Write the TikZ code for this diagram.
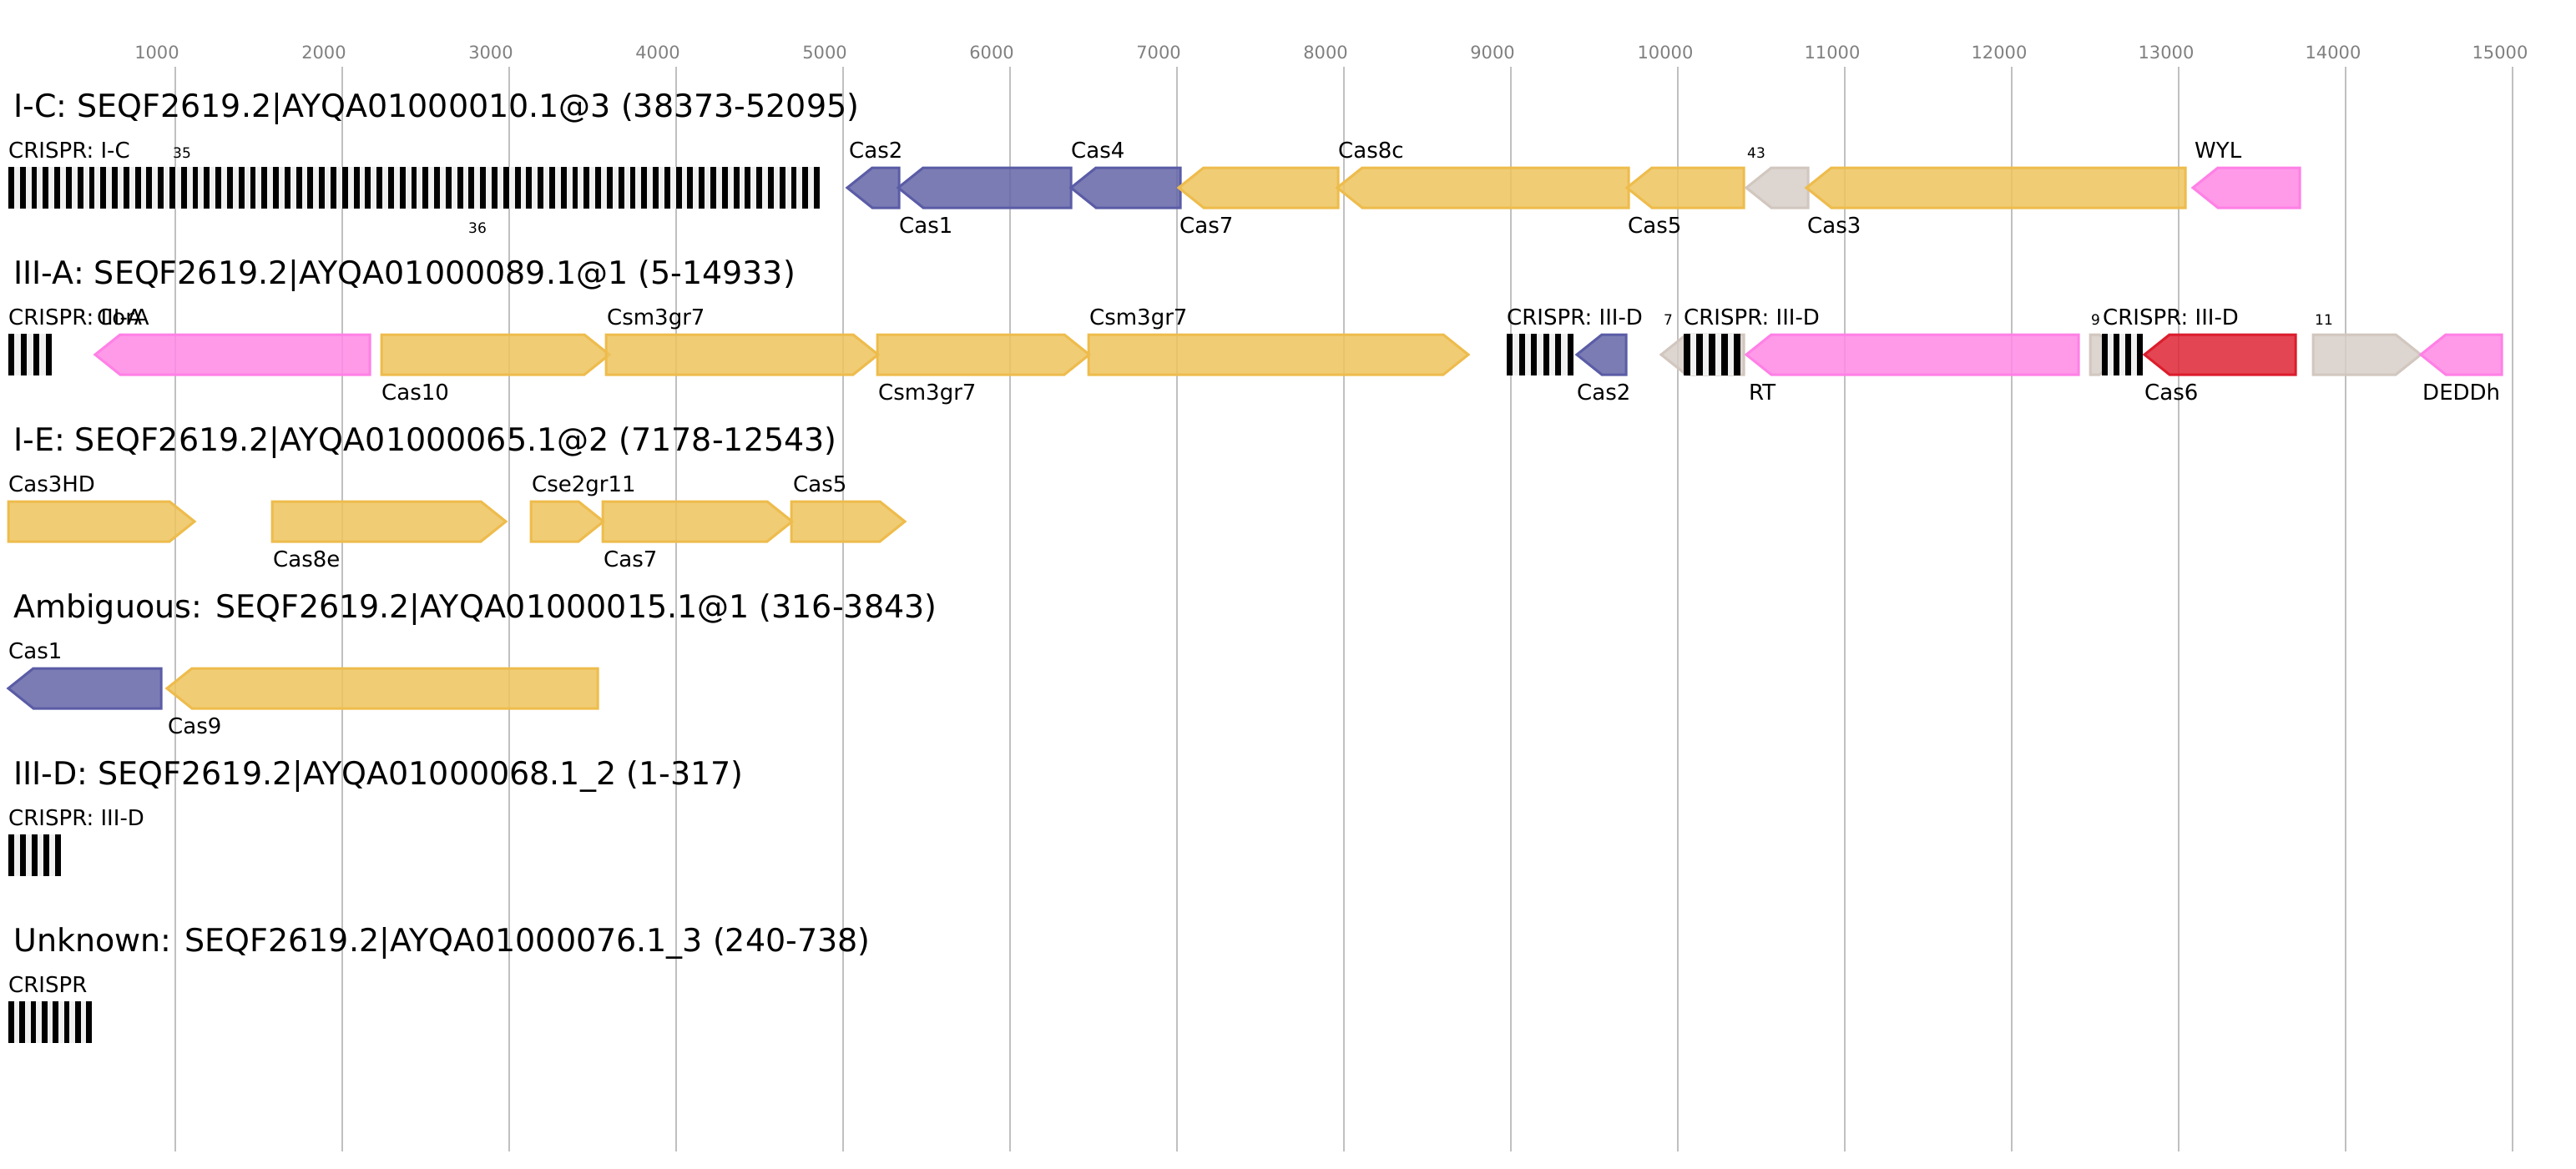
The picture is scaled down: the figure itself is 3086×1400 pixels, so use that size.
\documentclass[tikz,border=0pt]{standalone}
\usepackage{fontspec}
\setmainfont{DejaVu Sans}
\definecolor{blueF}{RGB}{100,102,168}
\definecolor{blueD}{RGB}{90,92,166}
\definecolor{yelF}{RGB}{238,196,94}
\definecolor{yelD}{RGB}{238,188,76}
\definecolor{pinkF}{RGB}{255,137,230}
\definecolor{pinkD}{RGB}{255,128,230}
\definecolor{greyF}{RGB}{214,206,200}
\definecolor{greyD}{RGB}{210,199,191}
\definecolor{redF}{RGB}{223,37,54}
\definecolor{redD}{RGB}{220,29,44}
\definecolor{gridc}{RGB}{192,192,192}
\definecolor{tickc}{RGB}{128,128,128}
\definecolor{spacerc}{RGB}{240,240,240}
\tikzset{
  genebase/.style={line width=3pt, line join=miter, fill opacity=0.85},
  bluegene/.style={genebase, fill=blueF, draw=blueD},
  yelgene/.style={genebase, fill=yelF, draw=yelD},
  pinkgene/.style={genebase, fill=pinkF, draw=pinkD},
  greygene/.style={genebase, fill=greyF, draw=greyD},
  redgene/.style={genebase, fill=redF, draw=redD},
  gridline/.style={draw=gridc, line width=2pt},
  ticklabel/.style={text=tickc, font=\fontsize{21}{25}\selectfont, inner sep=0pt, anchor=base},
  title/.style={font=\fontsize{38}{44}\selectfont, inner sep=0pt, anchor=base west},
  lab/.style={font=\fontsize{26}{30}\selectfont, inner sep=0pt, anchor=base west},
  numlab/.style={font=\fontsize{17}{20}\selectfont, inner sep=0pt, anchor=base west}
}
\newcommand\geneL[4]{\draw[#1] (#2,#4) -- (#2+30,#4-24) -- (#3,#4-24) -- (#3,#4+24) -- (#2+30,#4+24) -- cycle;}
\newcommand\geneR[4]{\draw[#1] (#2,#4-24) -- (#3-30,#4-24) -- (#3,#4) -- (#3-30,#4+24) -- (#2,#4+24) -- cycle;}
\newcommand\crisprarr[4]{%
  \fill[spacerc] (#1,#4-25) rectangle (#2,#4+25);
  \pgfmathsetmacro\bw{(#2-#1)/(2*#3-1)}%
  \foreach \i in {1,...,#3} {\fill[black] ({#1+2*(\i-1)*\bw},#4-25) rectangle ++(\bw,50);}%
}
\begin{document}
\begin{tikzpicture}[x=1pt,y=-1pt]
\useasboundingbox (0,0) rectangle (3086,1400);
\fill[white] (0,0) rectangle (3086,1400);
% grid
\foreach \k in {1,...,15} {\draw[gridline] ({10+200*\k},80) -- ({10+200*\k},1380);}
\foreach \k in {1,...,9} {\node[ticklabel] (t\k) at ({10+200*\k-22},70) {\k000};}
\foreach \k in {10,...,15} {\node[ticklabel] (t\k) at ({10+200*\k-15},70) {\k000};}

% ---------- Row 1: I-C ----------
\node[title] (title1) at (16,140) {I-C: SEQF2619.2|AYQA01000010.1@3 (38373-52095)};
\crisprarr{10}{982}{71}{225}
\geneL{bluegene}{1015}{1077}{225}
\geneL{bluegene}{1076}{1283}{225}
\geneL{bluegene}{1283}{1414}{225}
\geneL{yelgene}{1412}{1603}{225}
\geneL{yelgene}{1602}{1951}{225}
\geneL{yelgene}{1949}{2089}{225}
\geneL{greygene}{2092}{2166}{225}
\geneL{yelgene}{2164}{2618}{225}
\geneL{pinkgene}{2627}{2755}{225}
\node[lab] (r1a) at (10,189) {CRISPR: I-C};
\node[numlab] (r1b) at (207,189) {35};
\node[numlab] (r1c) at (561,279) {36};
\node[lab] (r1d) at (1017,189) {Cas2};
\node[lab] (r1e) at (1077,279) {Cas1};
\node[lab] (r1f) at (1283,189) {Cas4};
\node[lab] (r1g) at (1413,279) {Cas7};
\node[lab] (r1h) at (1603,189) {Cas8c};
\node[lab] (r1i) at (1950,279) {Cas5};
\node[numlab] (r1j) at (2093,189) {43};
\node[lab] (r1k) at (2165,279) {Cas3};
\node[lab] (r1l) at (2629,189) {WYL};

% ---------- Row 2: III-A ----------
\node[title] (title2) at (16,340) {III-A: SEQF2619.2|AYQA01000089.1@1 (5-14933)};
\crisprarr{10}{62}{4}{425}
\geneL{pinkgene}{114}{443}{425}
\geneR{yelgene}{457}{730}{425}
\geneR{yelgene}{726}{1052}{425}
\geneR{yelgene}{1051}{1305}{425}
\geneR{yelgene}{1304}{1759}{425}
\crisprarr{1805}{1885}{6}{425}
\geneL{bluegene}{1889}{1948}{425}
\geneL{greygene}{1990}{2089}{425}
\crisprarr{2017}{2085}{5}{425}
\geneL{pinkgene}{2092}{2490}{425}
\geneR{greygene}{2504}{2545}{425}
\crisprarr{2518}{2567}{4}{425}
\geneL{redgene}{2569}{2750}{425}
\geneR{greygene}{2771}{2900}{425}
\geneL{pinkgene}{2900}{2997}{425}
\node[lab] (r2a) at (10,389) {CRISPR: III-A};
\node[lab] (r2b) at (116,389) {CorA};
\node[lab] (r2c) at (457,479) {Cas10};
\node[lab] (r2d) at (727,389) {Csm3gr7};
\node[lab] (r2e) at (1052,479) {Csm3gr7};
\node[lab] (r2f) at (1305,389) {Csm3gr7};
\node[lab] (r2g) at (1805,389) {CRISPR: III-D};
\node[lab] (r2h) at (1889,479) {Cas2};
\node[numlab] (r2i) at (1993,389) {7};
\node[lab] (r2j) at (2017,389) {CRISPR: III-D};
\node[lab] (r2k) at (2095,479) {RT};
\node[numlab] (r2l) at (2505,389) {9};
\node[lab] (r2m) at (2519,389) {CRISPR: III-D};
\node[lab] (r2n) at (2569,479) {Cas6};
\node[numlab] (r2o) at (2773,389) {11};
\node[lab] (r2p) at (2902,479) {DEDDh};

% ---------- Row 3: I-E ----------
\node[title] (title3) at (16,540) {I-E: SEQF2619.2|AYQA01000065.1@2 (7178-12543)};
\geneR{yelgene}{10}{233}{625}
\geneR{yelgene}{326}{606}{625}
\geneR{yelgene}{636}{723}{625}
\geneR{yelgene}{722}{949}{625}
\geneR{yelgene}{948}{1084}{625}
\node[lab] (r3a) at (10,589) {Cas3HD};
\node[lab] (r3b) at (327,679) {Cas8e};
\node[lab] (r3c) at (637,589) {Cse2gr11};
\node[lab] (r3d) at (723,679) {Cas7};
\node[lab] (r3e) at (950,589) {Cas5};

% ---------- Row 4: Ambiguous ----------
\node[title] (title4) at (16,740) {Ambiguous: SEQF2619.2|AYQA01000015.1@1 (316-3843)};
\geneL{bluegene}{10}{193}{825}
\geneL{yelgene}{200}{716}{825}
\node[lab] (r4a) at (10,789) {Cas1};
\node[lab] (r4b) at (201,879) {Cas9};

% ---------- Row 5: III-D ----------
\node[title] (title5) at (16,940) {III-D: SEQF2619.2|AYQA01000068.1\_2 (1-317)};
\crisprarr{10}{73}{5}{1025}
\node[lab] (r5a) at (10,989) {CRISPR: III-D};

% ---------- Row 6: Unknown ----------
\node[title] (title6) at (16,1140) {Unknown: SEQF2619.2|AYQA01000076.1\_3 (240-738)};
\crisprarr{10}{110}{8}{1225}
\node[lab] (r6a) at (10,1189) {CRISPR};
\end{tikzpicture}
\end{document}
